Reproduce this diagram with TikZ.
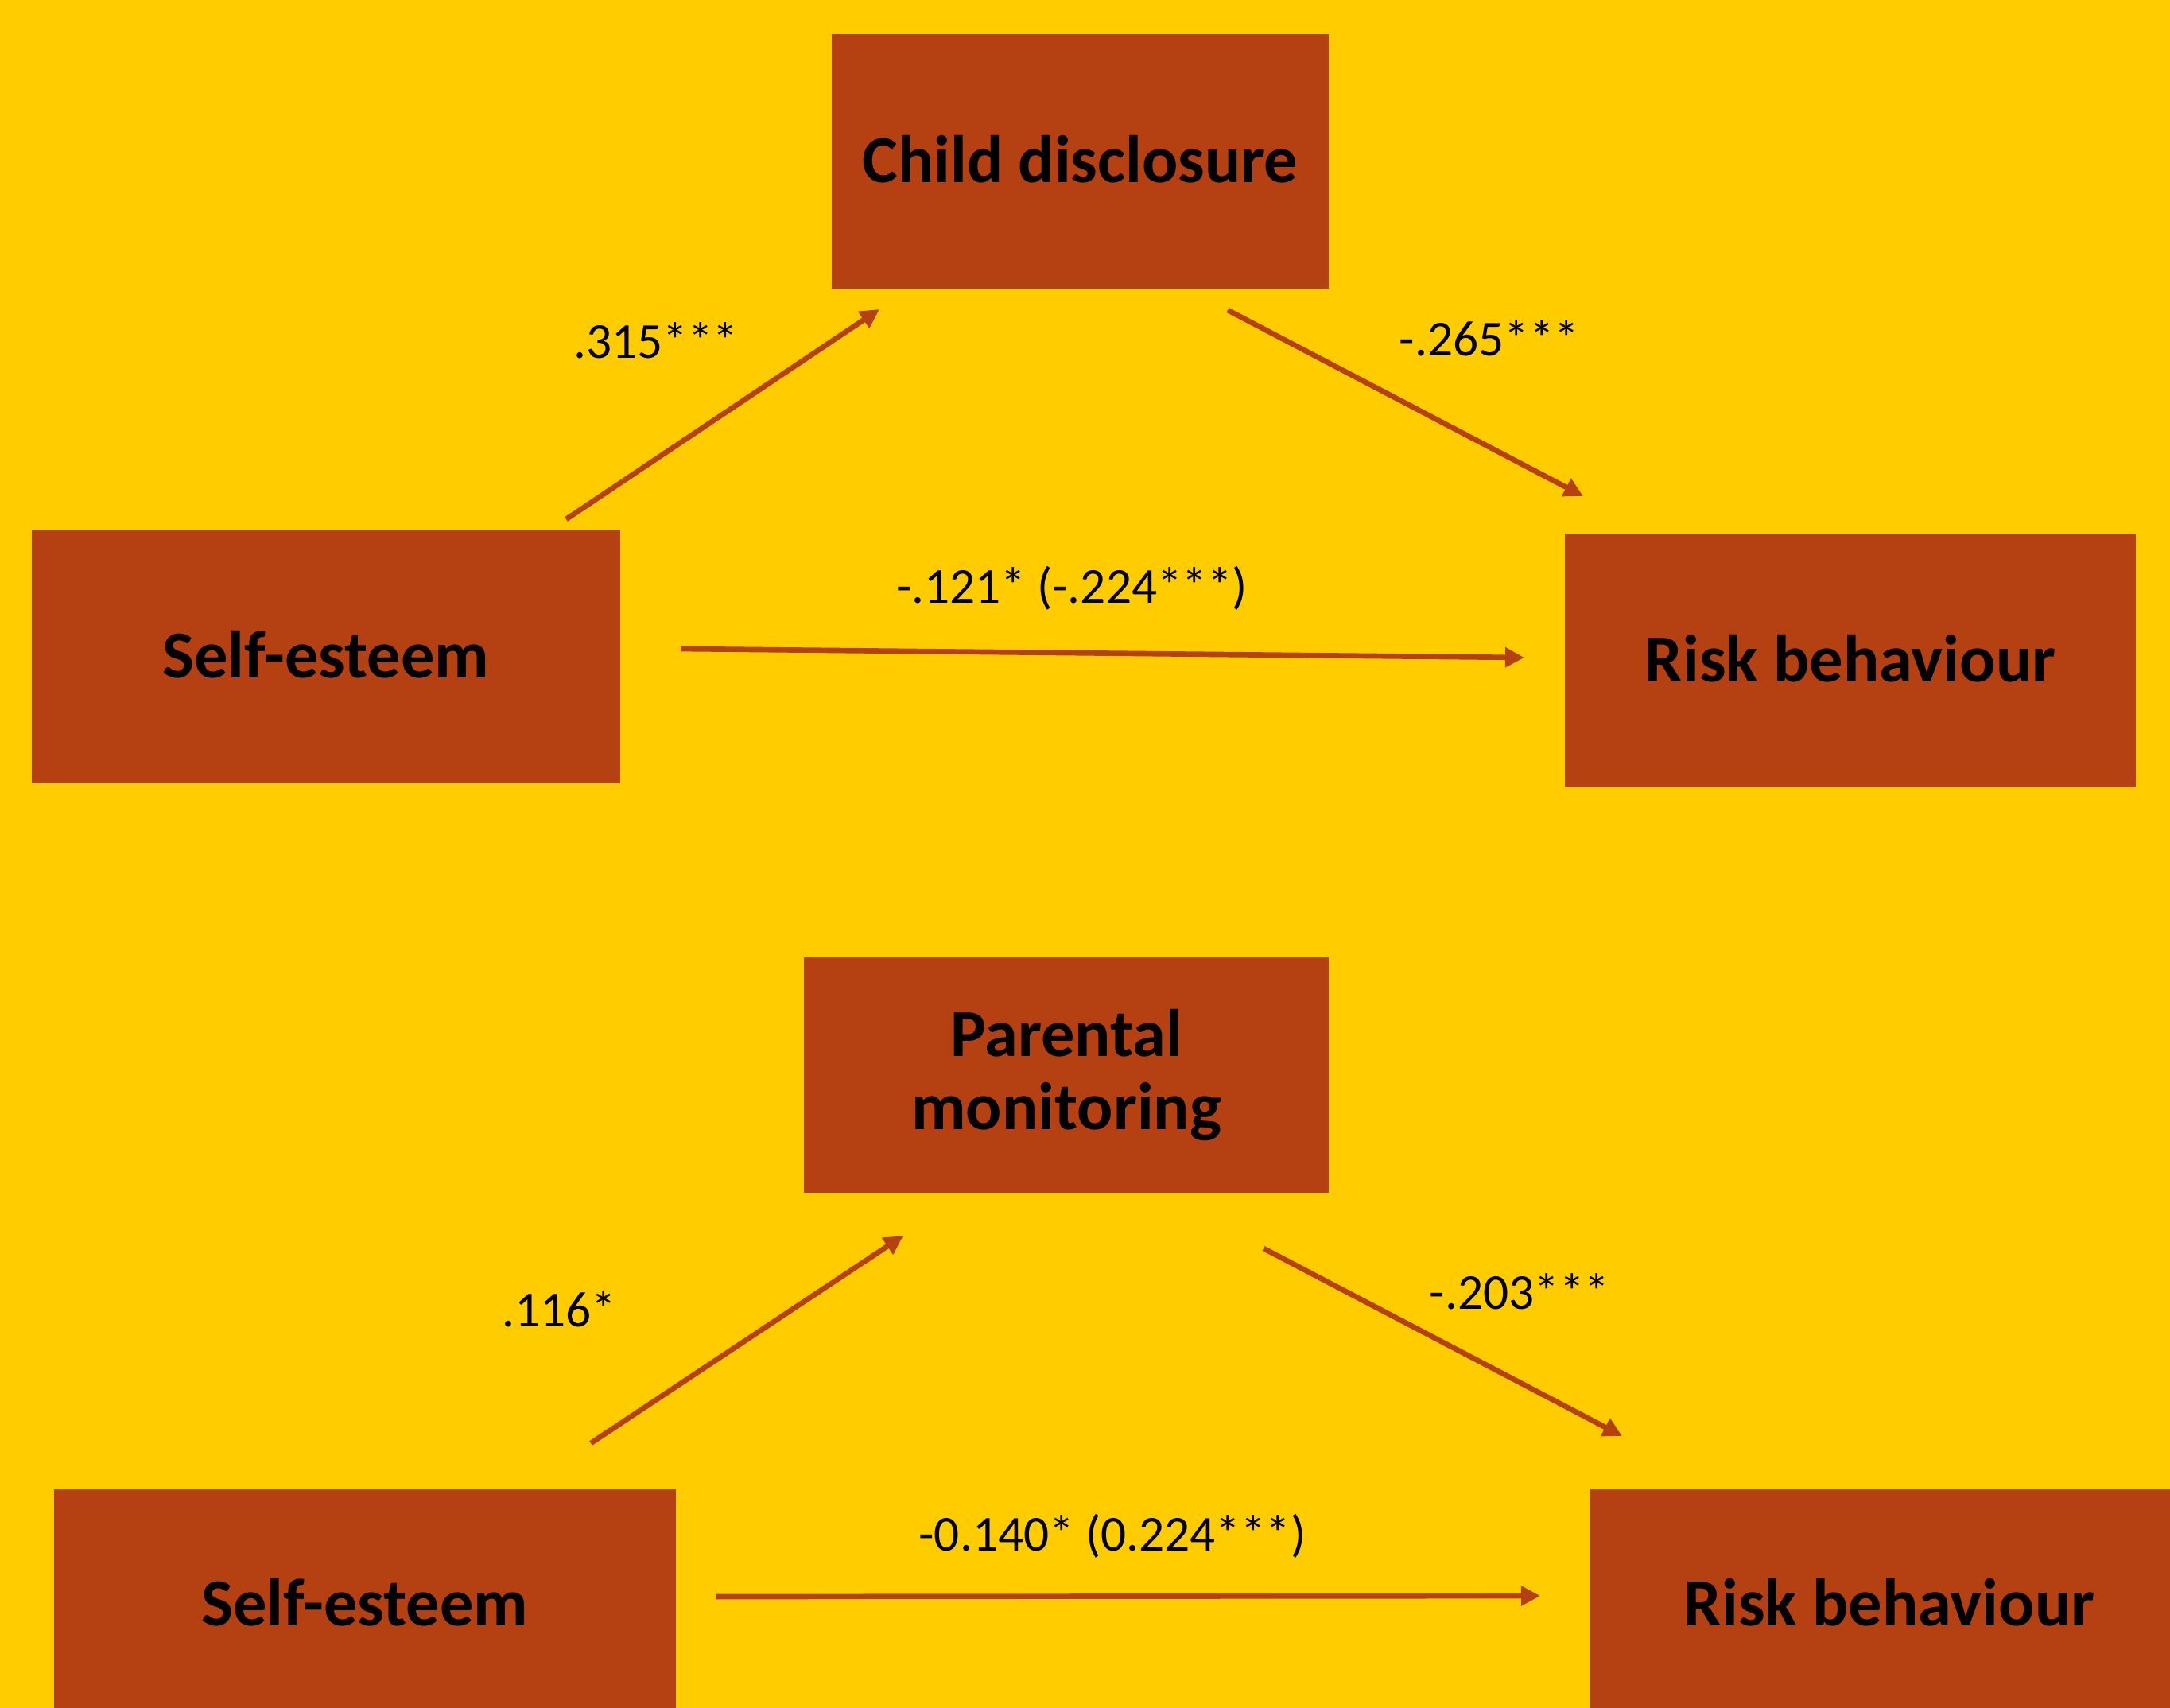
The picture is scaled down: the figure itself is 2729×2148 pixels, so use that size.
\documentclass[tikz,border=0pt]{standalone}
\usepackage{fontspec}
\setmainfont{Carlito}
\usetikzlibrary{arrows.meta}
\definecolor{bg}{RGB}{255,204,0}
\definecolor{boxc}{RGB}{181,65,18}
\begin{document}
\begin{tikzpicture}[x=0.01cm,y=-0.01cm,
  box/.style={fill=boxc, draw=none, inner sep=0pt, align=center, font=\fontsize{24}{26.2}\selectfont\bfseries},
  onebox/.style={box, text depth=0.07cm},
  link/.style={draw=boxc, line width=1.9pt, -{Triangle[length=2.4mm,width=2.4mm]}},
  lab/.style={font=\fontsize{18}{20}\selectfont, inner sep=0pt}]
\useasboundingbox (0,0) rectangle (2729,2148);
\clip (0,0) rectangle (2729,2148);
\fill[bg] (0,0) rectangle (2729,2148);

% top model
\node[onebox, minimum width=6.25cm, minimum height=3.2cm] (cd) at (1358.5,203) {Child disclosure};
\node[onebox, minimum width=7.4cm, minimum height=3.18cm] (se1) at (410,826) {Self-esteem};
\node[onebox, minimum width=7.18cm, minimum height=3.18cm] (rb1) at (2327,831) {Risk behaviour};

\coordinate (a1s) at (712,653);  \coordinate (a1e) at (1106,389);
\coordinate (a2s) at (1544,390); \coordinate (a2e) at (1991,624);
\coordinate (a3s) at (856,816);  \coordinate (a3e) at (1917,827);
\draw[link] (a1s) -- (a1e);
\draw[link] (a2s) -- (a2e);
\draw[link] (a3s) -- (a3e);

\node[lab] (l1) at (825,428) {.315***};
\node[lab] (l2) at (1873,425) {-.265***};
\node[lab] (l3) at (1348,740) {-.121* (-.224***)};

% bottom model
\node[box, minimum width=6.6cm, minimum height=2.96cm] (pm) at (1341,1352) {Parental\\monitoring};
\node[onebox, minimum width=7.82cm, minimum height=2.9cm] (se2) at (459,2018) {Self-esteem};
\node[onebox, minimum width=7.52cm, minimum height=2.9cm] (rb2) at (2376,2018) {Risk behaviour};

\coordinate (b1s) at (743,1815);  \coordinate (b1e) at (1136,1554);
\coordinate (b2s) at (1589,1570); \coordinate (b2e) at (2040,1806);
\coordinate (b3s) at (900,2008);  \coordinate (b3e) at (1937,2007);
\draw[link] (b1s) -- (b1e);
\draw[link] (b2s) -- (b2e);
\draw[link] (b3s) -- (b3e);

\node[lab] (m1) at (703,1646) {.116*};
\node[lab] (m2) at (1911,1624) {-.203***};
\node[lab] (m3) at (1399,1932) {-0.140* (0.224***)};
\end{tikzpicture}
\end{document}
